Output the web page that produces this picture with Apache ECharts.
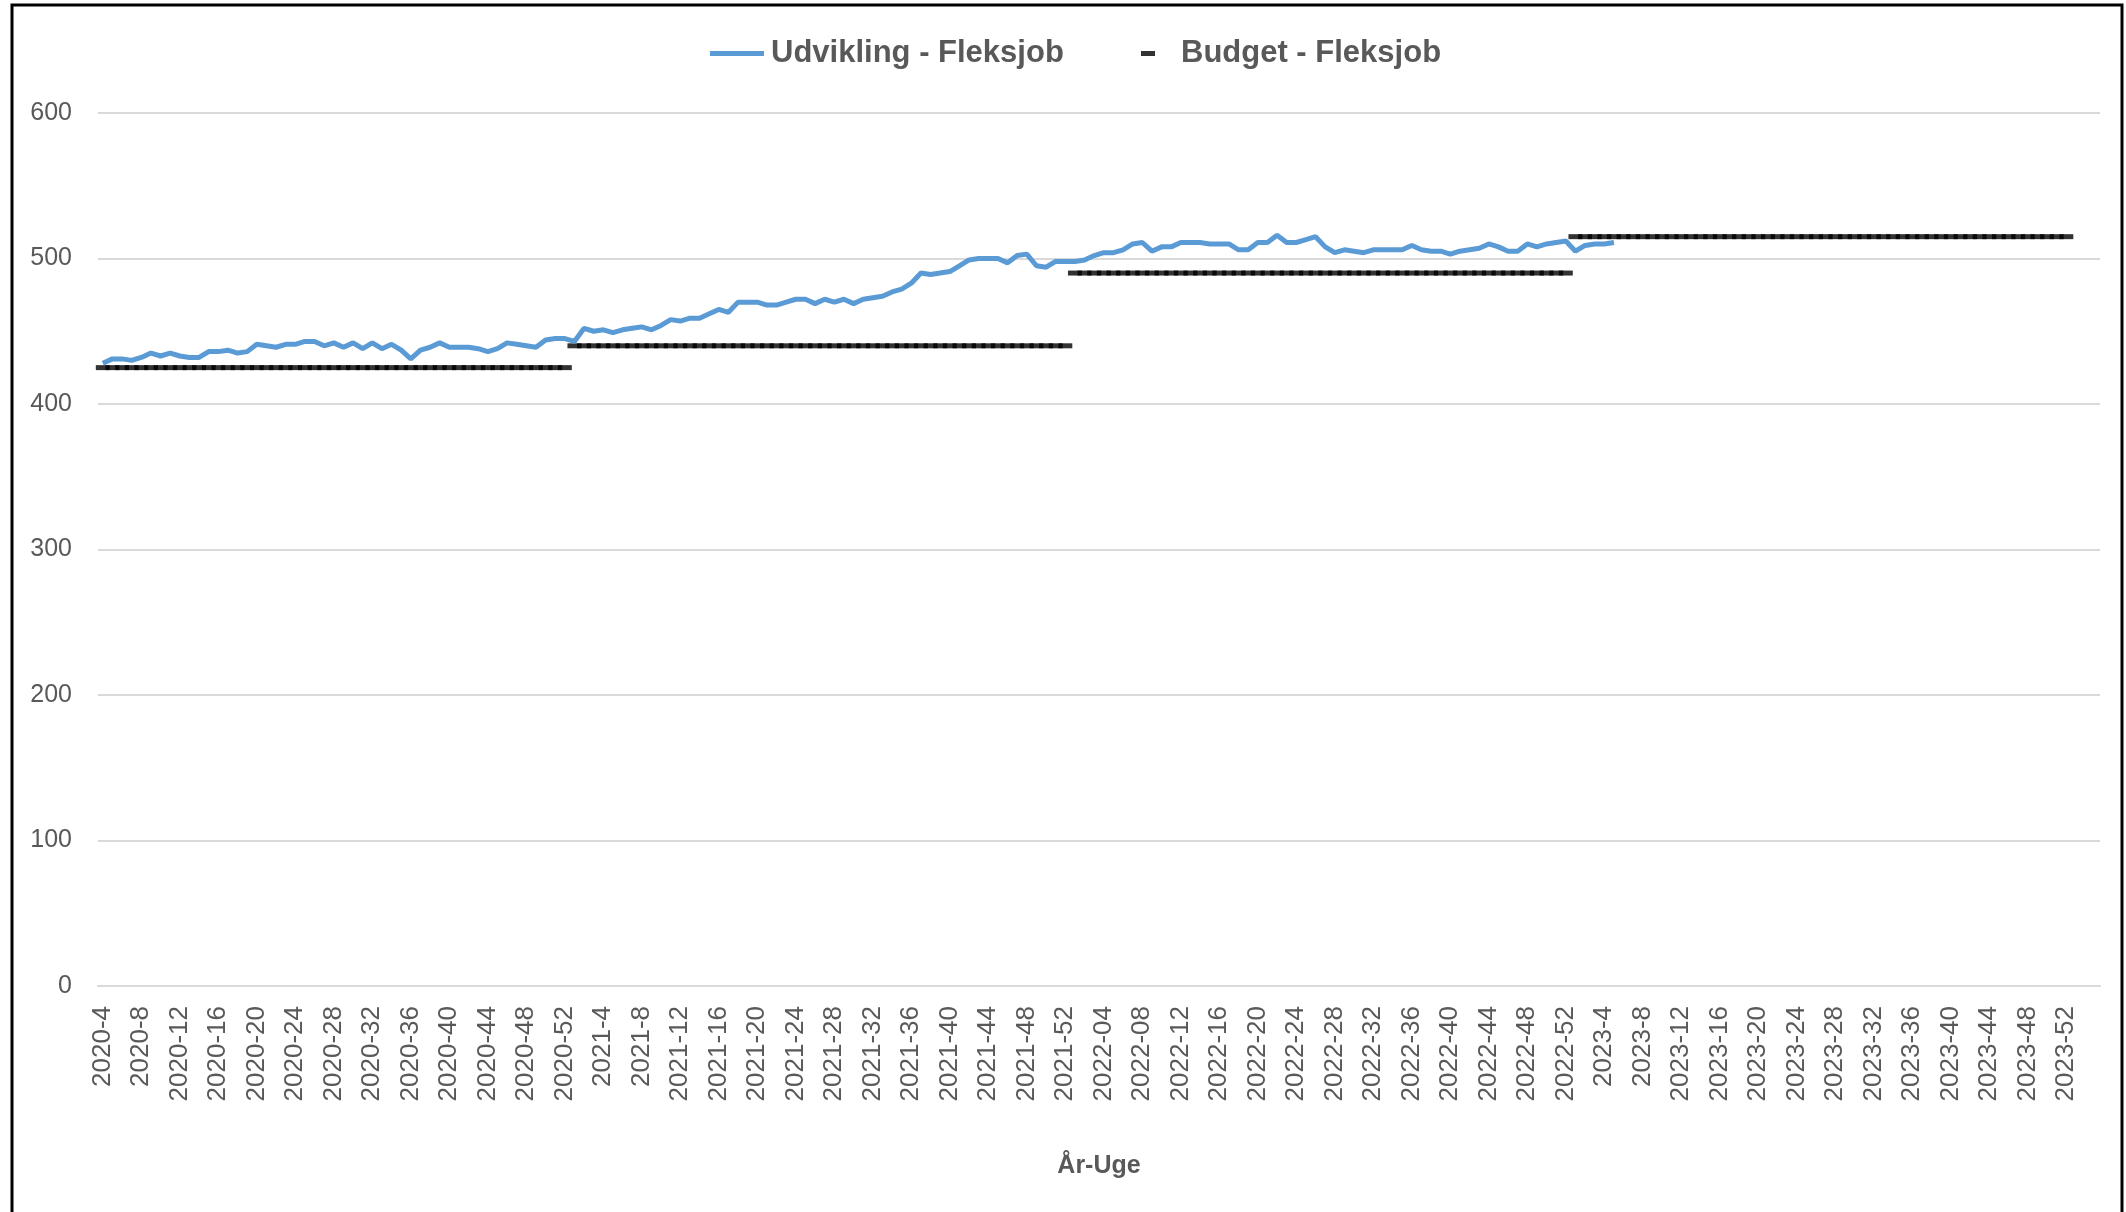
<!DOCTYPE html>
<html>
<head>
<meta charset="utf-8">
<script src="https://cdn.jsdelivr.net/npm/echarts@6/dist/echarts.min.js"></script>
<style>
html, body { margin: 0; padding: 0; background: #fff; }
#chart { width: 2126px; height: 1212px; }
</style>
</head>
<body>
<div id="chart"></div>
<script>
// week axis: 2020-4 .. 2023-52, 2022 weeks are written with two digits
const years = [2020, 2021, 2022, 2023];
const firstWeek = [4, 1, 1, 1];
const lastWeek = [52, 52, 52, 52];
const padWeek = [false, false, true, false];
const emptyTail = 3; // blank categories after 2023-52

// yearly budget
const budgetPerYear = [425, 440, 490, 515];

// Udvikling - Fleksjob, from 2020-4 to 2023-5
const udvikling = [
    428, 431, 431, 430, 432, 435, 433, 435, 433, 432,
    432, 436, 436, 437, 435, 436, 441, 440, 439, 441,
    441, 443, 443, 440, 442, 439, 442, 438, 442, 438,
    441, 437, 431, 437, 439, 442, 439, 439, 439, 438,
    436, 438, 442, 441, 440, 439, 444, 445, 445, 443,
    452, 450, 451, 449, 451, 452, 453, 451, 454, 458,
    457, 459, 459, 462, 465, 463, 470, 470, 470, 468,
    468, 470, 472, 472, 469, 472, 470, 472, 469, 472,
    473, 474, 477, 479, 483, 490, 489, 490, 491, 495,
    499, 500, 500, 500, 497, 502, 503, 495, 494, 498,
    498, 498, 499, 502, 504, 504, 506, 510, 511, 505,
    508, 508, 511, 511, 511, 510, 510, 510, 506, 506,
    511, 511, 516, 511, 511, 513, 515, 508, 504, 506,
    505, 504, 506, 506, 506, 506, 509, 506, 505, 505,
    503, 505, 506, 507, 510, 508, 505, 505, 510, 508,
    510, 511, 512, 505, 509, 510, 510, 511
];

const categories = [];
const budget = [];
years.forEach((y, k) => {
    for (let w = firstWeek[k]; w <= lastWeek[k]; w++) {
        categories.push(y + '-' + (padWeek[k] && w < 10 ? '0' + w : w));
        budget.push(budgetPerYear[k]);
    }
});
for (let i = 0; i < emptyTail; i++) {
    categories.push(' '.repeat(i + 1));
    budget.push(null);
}

const grey = '#595959';
const font = 'Liberation Sans';

const option = {
    backgroundColor: '#fff',
    animation: false,
    graphic: [{
        type: 'rect',
        shape: { x: 12, y: 5, width: 2110, height: 1240 },
        style: { fill: 'none', stroke: '#000', lineWidth: 3 },
        silent: true
    }],
    legend: [
        {
            data: [{ name: 'Udvikling - Fleksjob', icon: 'rect' }],
            left: 705,
            top: 33,
            itemWidth: 54,
            itemHeight: 5,
            textStyle: { color: grey, fontSize: 31, fontWeight: 'bold', fontFamily: font, padding: [0, 0, 0, 2] }
        },
        {
            data: [{ name: 'Budget - Fleksjob', icon: 'rect' }],
            left: 1136,
            top: 33,
            itemWidth: 14,
            itemHeight: 5,
            textStyle: { color: grey, fontSize: 31, fontWeight: 'bold', fontFamily: font, padding: [0, 0, 0, 21] }
        }
    ],
    grid: {
        left: 98,
        right: 26,
        top: 113,
        bottom: 226
    },
    xAxis: {
        type: 'category',
        data: categories,
        boundaryGap: true,
        name: 'År-Uge',
        nameLocation: 'middle',
        nameGap: 168,
        nameTextStyle: { color: grey, fontSize: 25, fontWeight: 'bold', fontFamily: font },
        axisLine: { lineStyle: { color: '#d9d9d9', width: 2 } },
        axisTick: { show: false },
        axisLabel: {
            interval: 3,
            rotate: 90,
            margin: 20,
            color: grey,
            fontSize: 26,
            fontFamily: font
        }
    },
    yAxis: {
        type: 'value',
        min: 0,
        max: 600,
        interval: 100,
        axisLine: { show: false },
        axisTick: { show: false },
        axisLabel: { color: grey, fontSize: 25, fontFamily: font, margin: 26 },
        splitLine: { lineStyle: { color: '#d9d9d9', width: 2 } }
    },
    series: [
        {
            name: 'Udvikling - Fleksjob',
            type: 'line',
            data: udvikling,
            showSymbol: false,
            color: '#5b9bd5',
            lineStyle: { width: 5, color: '#5b9bd5' }
        },
        {
            name: 'Budget - Fleksjob',
            type: 'scatter',
            data: budget,
            symbol: 'rect',
            symbolSize: [14, 5],
            itemStyle: { color: '#000' }
        }
    ]
};

const mychart = echarts.init(document.getElementById('chart'));
mychart.setOption(option);
window.addEventListener('resize', function () {
    mychart.resize();
});
</script>
</body>
</html>
